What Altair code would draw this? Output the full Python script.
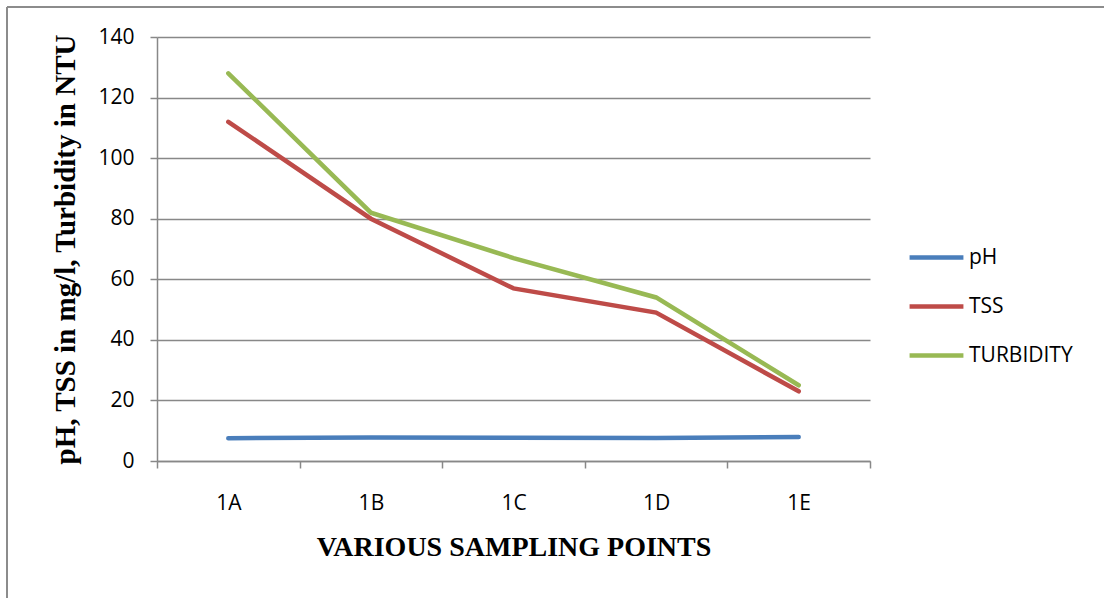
import altair as alt
import pandas as pd

points = ["1A", "1B", "1C", "1D", "1E"]
ph = [7.5, 7.8, 7.7, 7.6, 7.9]
tss = [112, 80, 57, 49, 23]
turbidity = [128, 82, 67, 54, 25]
series = ["pH", "TSS", "TURBIDITY"]
colors = ["#4A7EBB", "#BE4B48", "#98B954"]

rows = []
for name, vals in zip(series, [ph, tss, turbidity]):
    for p, v in zip(points, vals):
        rows.append({"point": p, "series": name, "value": v})
df = pd.DataFrame(rows)

W, H = 713, 424
GRID = "#888888"

x_enc = alt.X(
    "point:N",
    sort=points,
    scale=alt.Scale(paddingInner=0, paddingOuter=0),
    axis=alt.Axis(
        title="VARIOUS SAMPLING POINTS",
        labelAngle=0,
        labelFont="Open Sans",
        labelFontSize=21,
        labelColor="#000000",
        labelPadding=24,
        tickSize=7,
        tickColor=GRID,
        tickWidth=1.5,
        tickBand="extent",
        domainColor=GRID,
        domainWidth=1.5,
        titleFont="Liberation Serif",
        titleFontSize=28,
        titleFontWeight="bold",
        titleColor="#000000",
        titlePadding=20,
        grid=False,
    ),
)

y_enc = alt.Y(
    "value:Q",
    scale=alt.Scale(domain=[0, 140], nice=False),
    axis=alt.Axis(
        title="pH, TSS in mg/l, Turbidity in NTU",
        values=list(range(0, 141, 20)),
        labelFont="Open Sans",
        labelFontSize=21,
        labelColor="#000000",
        labelPadding=16,
        tickSize=7,
        tickColor=GRID,
        tickWidth=1.5,
        domainColor=GRID,
        domainWidth=1.5,
        gridColor=GRID,
        gridWidth=1.5,
        titleFont="Liberation Serif",
        titleFontSize=29,
        titleFontWeight="bold",
        titleColor="#000000",
        titlePadding=17,
    ),
)

lines = alt.Chart(df).mark_line(strokeWidth=4.5, strokeCap="round").encode(
    x=x_enc,
    y=y_enc,
    color=alt.Color(
        "series:N",
        sort=series,
        scale=alt.Scale(domain=series, range=colors),
        legend=alt.Legend(
            title=None,
            orient="none",
            legendX=750,
            legendY=191,
            symbolType="stroke",
            symbolSize=2900,
            symbolStrokeWidth=4.5,
            labelFont="Open Sans",
            labelFontSize=21,
            labelColor="#000000",
            labelOffset=3,
            rowPadding=9,
        ),
    ),
)

# outer chart frame
frame_left = alt.Chart(df).mark_rule(color="#8c8c8c", strokeWidth=1.5).encode(
    x=alt.value(-150), y=alt.value(-30), y2=alt.value(H + 200)
)
frame_top = alt.Chart(df).mark_rule(color="#8c8c8c", strokeWidth=1.5).encode(
    x=alt.value(-150), x2=alt.value(W + 300), y=alt.value(-30)
)

chart = (
    alt.layer(lines, frame_left, frame_top)
    .properties(
        width=W,
        height=H,
        autosize=alt.AutoSizeParams(type="none"),
        padding={"left": 157, "top": 37, "right": 234, "bottom": 137},
        background="#ffffff",
    )
    .configure_view(stroke=None)
)

chart.save("out.html", embed_options={"renderer": "svg", "actions": False})
